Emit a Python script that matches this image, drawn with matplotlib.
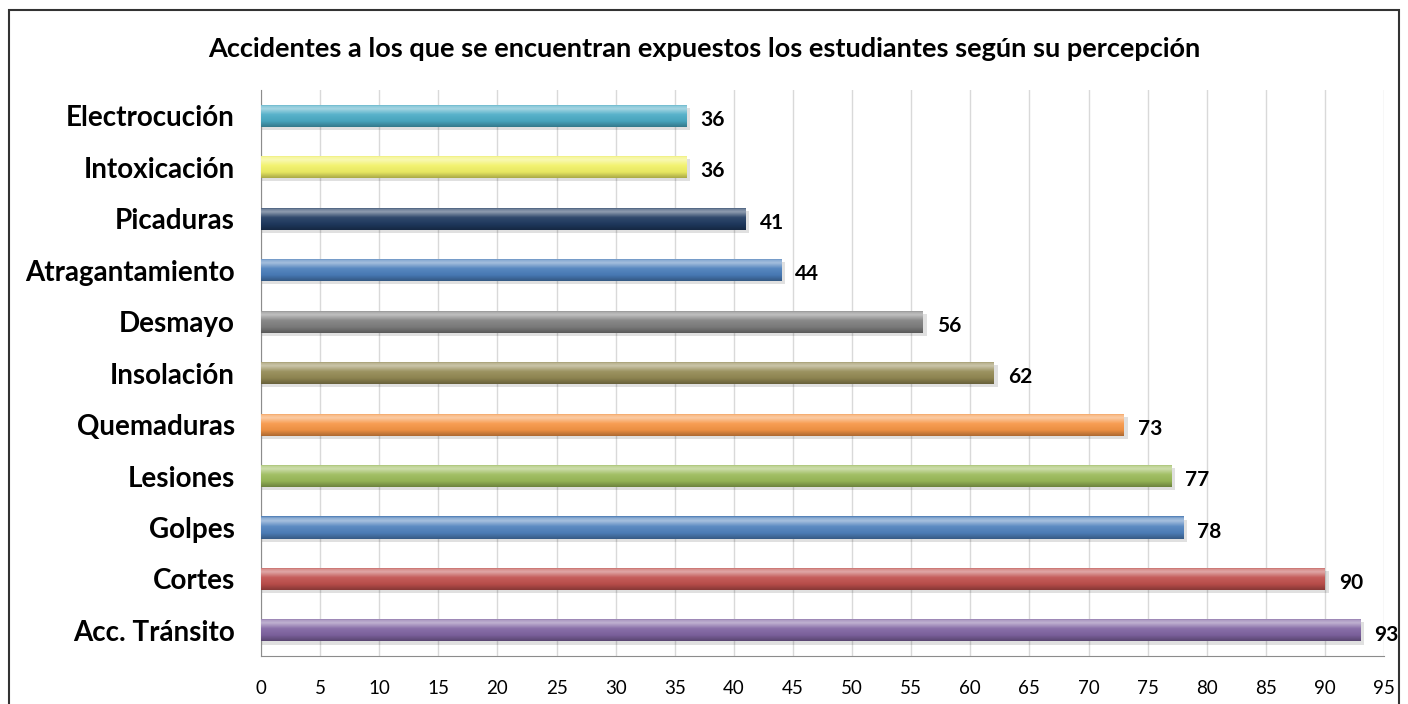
import numpy as np
import matplotlib.pyplot as plt
import matplotlib.colors as mcolors
from matplotlib.patches import Rectangle

plt.rcParams['font.family'] = ['Lato', 'DejaVu Sans']

categories = ['Acc. Tránsito', 'Cortes', 'Golpes', 'Lesiones', 'Quemaduras',
              'Insolación', 'Desmayo', 'Atragantamiento', 'Picaduras',
              'Intoxicación', 'Electrocución']
values = [93, 90, 78, 77, 73, 62, 56, 44, 41, 36, 36]
colors = ['#8064A2', '#C0504D', '#4F81BD', '#9BBB59', '#F79646',
          '#948A54', '#7F7F7F', '#4A7EBB', '#1F3A60', '#F2F266', '#4BACC6']
title = 'Accidentes a los que se encuentran expuestos los estudiantes según su percepción'


def shade(c, f):
    r = np.array(mcolors.to_rgb(c))
    if f > 0:
        return tuple(r + (1 - r) * f)
    return tuple(r * (1 + f))


fig = plt.figure(figsize=(14.08, 7.04), dpi=100)
fig.patches.append(Rectangle((0.0065, -0.01), 0.987, 0.996, transform=fig.transFigure,
                             fill=False, edgecolor='#333333', linewidth=1.5))
ax = fig.add_axes([0.1854, 0.068, 0.7976, 0.804])

y = np.arange(len(categories))
h = 0.43
bars = ax.barh(y, values, height=h, color=colors, edgecolor='none', zorder=3)

grad = np.linspace(0, 1, 64).reshape(-1, 1)
for bar, c, v in zip(bars, colors, values):
    x0, y0 = bar.get_x(), bar.get_y()
    w, hh = bar.get_width(), bar.get_height()
    # soft shadow under the bar
    ax.add_patch(Rectangle((x0, y0 - 0.06), w + 0.3, hh, color='#000000', alpha=0.12,
                           zorder=2, linewidth=0))
    cmap = mcolors.LinearSegmentedColormap.from_list(
        'g', [(0, shade(c, -0.3)), (0.25, shade(c, -0.05)), (0.55, shade(c, 0.08)),
              (0.8, shade(c, 0.5)), (0.92, shade(c, 0.35)), (1, shade(c, -0.05))])
    im = ax.imshow(grad, cmap=cmap, origin='lower', aspect='auto',
                   extent=(x0, x0 + w, y0, y0 + hh), zorder=4)
    im.set_clip_path(bar)
    ax.annotate(str(v), (v, bar.get_y() + hh / 2), xytext=(10, -3), textcoords='offset points',
                va='center', ha='left', fontsize=15, fontweight='bold')

ax.set_xlim(0, 95)
ax.set_ylim(-0.5, len(categories) - 0.5)
ax.set_xticks(np.arange(0, 96, 5))
ax.set_yticks(y)
ax.set_yticklabels(categories, fontsize=20, fontweight='bold')
ax.tick_params(axis='both', length=0)
ax.tick_params(axis='x', labelsize=13.5, pad=17)
ax.tick_params(axis='y', pad=19)
ax.grid(axis='x', color='#D9D9D9', linewidth=1, zorder=0)
ax.set_axisbelow(True)
for s in ['top', 'right']:
    ax.spines[s].set_visible(False)
for s in ['left', 'bottom']:
    ax.spines[s].set_color('#8C8C8C')

fig.text(0.5, 0.931, title, ha='center', va='center', fontsize=19.5, fontweight='bold')

fig.savefig('out.png', dpi=100)
